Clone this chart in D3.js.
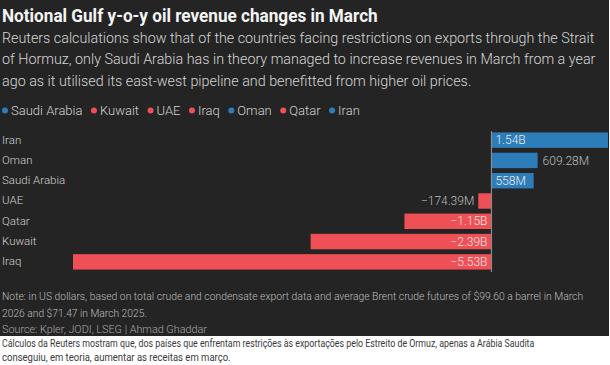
<!DOCTYPE html>
<html><head><meta charset="utf-8">
<script src="https://cdn.jsdelivr.net/npm/d3@7"></script>
<style>html,body{margin:0;padding:0;background:#fff;}svg{display:block;}</style>
</head><body>
<svg id="chart" width="610" height="365"></svg>
<script>
const countries = ["Iran","Oman","Saudi Arabia","UAE","Qatar","Kuwait","Iraq"];
const changes = [1.54, 0.60928, 0.558, -0.17439, -1.15, -2.39, -5.53]; // US$ billions
const legendOrder = ["Saudi Arabia","Kuwait","UAE","Iraq","Oman","Qatar","Iran"];
const title = "Notional Gulf y-o-y oil revenue changes in March";
const subtitleLines = [
  "Reuters calculations show that of the countries facing restrictions on exports through the Strait",
  "of Hormuz, only Saudi Arabia has in theory managed to increase revenues in March from a year",
  "ago as it utilised its east-west pipeline and benefitted from higher oil prices."
];
const noteLines = [
  "Note: in US dollars, based on total crude and condensate export data and average Brent crude futures of $99.60 a barrel in March",
  "2026 and $71.47 in March 2025."
];
const sourceLine = "Source: Kpler, JODI, LSEG | Ahmad Ghaddar";
const captionLines = [
  "Cálculos da Reuters mostram que, dos países que enfrentam restrições às exportações pelo Estreito de Ormuz, apenas a Arábia Saudita",
  "conseguiu, em teoria, aumentar as receitas em março."
];

const BLUE = "#2e7dbb", RED = "#ee5056", BG = "#242424";
const FONT = "Roboto, 'Noto Sans', sans-serif";
const data = countries.map((c,i)=>({country:c, value:changes[i]}));
const colorOf = c => data.find(d=>d.country===c).value >= 0 ? BLUE : RED;

const svg = d3.select("#chart").style("font-family", FONT);
svg.append("rect").attr("x",0).attr("y",0).attr("width",609).attr("height",336).attr("fill",BG);

// text condensed horizontally to a target width via a transform
function fitText(g, txt, x, y, width, attrs) {
  const grp = g.append("g");
  const t = grp.append("text").attr("x",0).attr("y",0).text(txt);
  Object.entries(attrs).forEach(([k,v])=>t.attr(k,v));
  const w = t.node().getComputedTextLength();
  const s = width ? Math.min(1, width / w) : 1;
  grp.attr("transform", `translate(${x},${y}) scale(${s},1)`);
  return t;
}

fitText(svg, title, 2, 22, 376, {"font-size":17.5, "font-weight":700, fill:"#f4f4f4"});
const subW = [593, 594, 470];
subtitleLines.forEach((l,i)=>fitText(svg, l, 2, 43 + i*21.3, subW[i], {"font-size":15, "font-weight":300, fill:"#d6d6d6"}));

// legend
const lg = svg.append("g");
let lx = 5;
legendOrder.forEach(c=>{
  lg.append("circle").attr("cx",lx).attr("cy",110.5).attr("r",3).attr("fill",colorOf(c));
  const t = lg.append("text").attr("x",lx+6).attr("y",115).attr("font-size",13).attr("font-weight",300)
    .attr("fill","#d0d0d0").text(c);
  lx = lx + 6 + t.node().getComputedTextLength() + 11.5;
});

// scales
const x = d3.scaleLinear().domain([d3.min(changes), d3.max(changes)]).range([73, 608]);
const y = d3.scaleBand().domain(countries).range([130, 272]).paddingInner(0.24).paddingOuter(0.12);

// category labels
svg.append("g").selectAll("text").data(data).join("text")
  .attr("x",2).attr("y",d=>y(d.country)+y.bandwidth()/2).attr("dy","0.3em")
  .attr("font-size",11.5).attr("font-weight",300).attr("fill","#cfcfcf").text(d=>d.country);

// bars
svg.append("g").selectAll("rect").data(data).join("rect")
  .attr("x",d=>x(Math.min(0,d.value))).attr("y",d=>y(d.country))
  .attr("width",d=>Math.abs(x(d.value)-x(0))).attr("height",y.bandwidth())
  .attr("fill",d=>d.value>=0?BLUE:RED);

// zero line
svg.append("line").attr("x1",x(0)).attr("x2",x(0)).attr("y1",131).attr("y2",272)
  .attr("stroke","#8a8a8a").attr("stroke-width",1.2);

// value labels
const fmt = v => {
  const s = v < 0 ? "\u2212" : "";
  const a = Math.abs(v);
  return a >= 1 ? s + a.toFixed(2) + "B" : s + (+(a*1000).toFixed(2)) + "M";
};
const vl = svg.append("g");
data.forEach(d=>{
  const t = vl.append("text").attr("y", y(d.country)+y.bandwidth()/2).attr("dy","0.35em")
    .attr("font-size",12).attr("font-weight",300).text(fmt(d.value));
  const tw = t.node().getComputedTextLength();
  const bw = Math.abs(x(d.value)-x(0));
  const inside = (d.value >= 0 ? d.country !== "Oman" && tw + 6 < bw : tw + 8 < bw);
  if (d.value >= 0) {
    if (inside) t.attr("x", x(0)+4).attr("fill","#ececec");
    else t.attr("x", x(d.value)+5).attr("fill","#bcbcbc");
  } else {
    t.attr("text-anchor","end");
    if (inside) t.attr("x", x(0)-4).attr("fill","#f6e6e6");
    else t.attr("x", x(d.value)-4).attr("fill","#bcbcbc");
  }
});

// notes
fitText(svg, noteLines[0], 2, 300, 582, {"font-size":11.5, "font-weight":300, fill:"#bdbdbd"});
fitText(svg, noteLines[1], 2, 317, 145, {"font-size":11.5, "font-weight":300, fill:"#bdbdbd"});
fitText(svg, sourceLine, 2, 332.5, 205, {"font-size":11.5, "font-weight":300, fill:"#a8a8a8"});
fitText(svg, captionLines[0], 2, 347, 533, {"font-size":10.5, fill:"#3a3a3a"});
fitText(svg, captionLines[1], 2, 361, 229, {"font-size":10.5, fill:"#3a3a3a"});
</script>
</body></html>
